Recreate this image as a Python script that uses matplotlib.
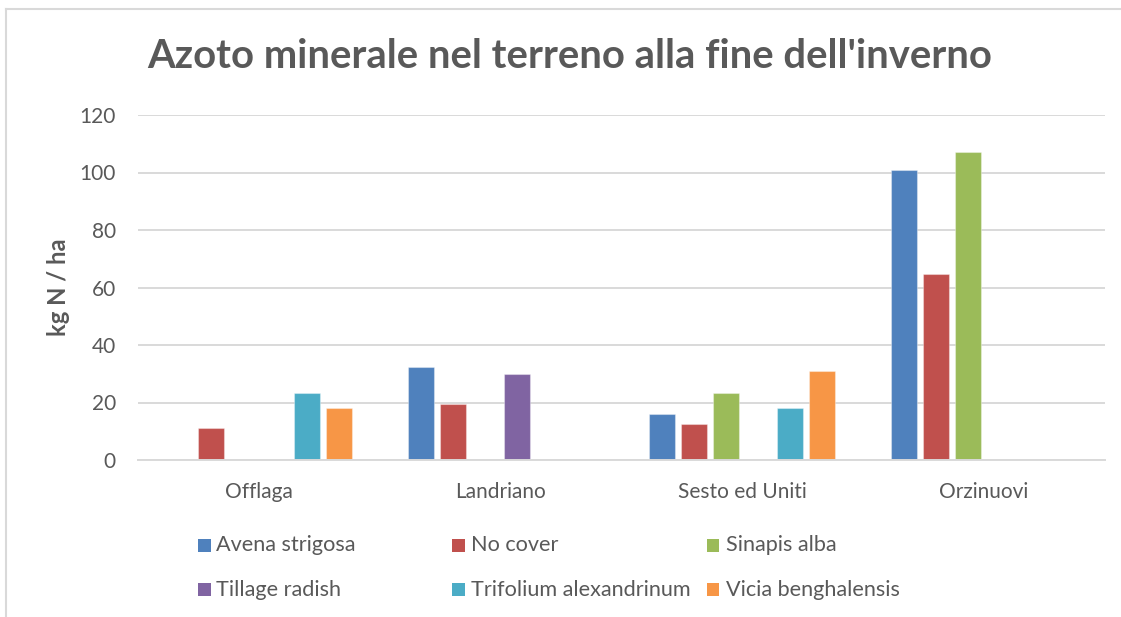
import matplotlib
matplotlib.use('Agg')
import matplotlib.pyplot as plt
import numpy as np
from matplotlib.patches import Rectangle
from matplotlib.lines import Line2D

nan = np.nan
categories = ['Offlaga', 'Landriano', 'Sesto ed Uniti', 'Orzinuovi']
series_names = ['Avena strigosa', 'No cover', 'Sinapis alba',
                'Tillage radish', 'Trifolium alexandrinum', 'Vicia benghalensis']
avena_strigosa = [nan, 32.5, 16.0, 100.8]
no_cover = [11.0, 19.5, 12.4, 64.8]
sinapis_alba = [nan, nan, 23.2, 107.0]
tillage_radish = [nan, 29.8, nan, nan]
trifolium_alexandrinum = [23.4, nan, 18.2, nan]
vicia_benghalensis = [18.2, nan, 31.1, nan]
y_ticks = [0, 20, 40, 60, 80, 100, 120]
title = "Azoto minerale nel terreno alla fine dell'inverno"
y_label = 'kg N / ha'

series_values = [avena_strigosa, no_cover, sinapis_alba,
                 tillage_radish, trifolium_alexandrinum, vicia_benghalensis]
colors = ['#4F81BD', '#C0504D', '#9BBB59', '#8064A2', '#4BACC6', '#F79646']

W, H = 1121, 617
FONT = ['Lato', 'DejaVu Sans']
TXT = '#595959'
GRID = '#D9D9D9'

fig = plt.figure(figsize=(W / 100, H / 100), dpi=100)
fig.patch.set_facecolor('white')
renderer = fig.canvas.get_renderer()


def fx(px):
    return px / W


def fy(py):
    return 1 - py / H


def fit(t, target, dim='w'):
    for _ in range(3):
        bb = t.get_window_extent(renderer)
        cur = bb.width if dim == 'w' else bb.height
        t.set_fontsize(t.get_fontsize() * target / cur)


# plot area
left, right, top, bottom = 138, 1105, 115, 460
ax = fig.add_axes([fx(left), fy(bottom), (right - left) / W, (bottom - top) / H])
x = np.arange(len(categories))
slot = 32 / 241.5
bw = 26 / 241.5
n = len(series_values)
for i, (vals, c) in enumerate(zip(series_values, colors)):
    ax.bar(x + (i - (n - 1) / 2) * slot, vals, width=bw, color=c,
           edgecolor=(1, 1, 1, 0.35), linewidth=0.8, zorder=3)

ax.set_xlim(-0.5, len(categories) - 0.5)
ax.set_ylim(y_ticks[0], y_ticks[-1])
ax.set_yticks(y_ticks)
ax.set_xticks(x)
ax.set_xticklabels(categories)
ax.yaxis.grid(True, color=GRID, linewidth=1.4, zorder=0)
ax.set_axisbelow(True)
for s in ['top', 'right', 'left']:
    ax.spines[s].set_visible(False)
ax.spines['bottom'].set_color(GRID)
ax.spines['bottom'].set_linewidth(1.4)
ax.spines['bottom'].set_zorder(4)
ax.tick_params(axis='both', length=0, colors=TXT)
ax.tick_params(axis='y', pad=22 * 0.72)
ax.tick_params(axis='x', pad=22 * 0.72)
for lab in ax.get_xticklabels() + ax.get_yticklabels():
    lab.set_family(FONT)
    lab.set_color(TXT)

# size tick labels
fig.canvas.draw()
probe = fig.text(0, 0, 'Offlaga', family=FONT, fontsize=14)
fit(probe, 68)
tick_fs = probe.get_fontsize()
probe.remove()
for lab in ax.get_xticklabels() + ax.get_yticklabels():
    lab.set_fontsize(tick_fs)

# title
t = fig.text(fx(570), fy(68), title, family=FONT, fontweight='bold',
             color=TXT, ha='center', va='baseline', fontsize=28)
fit(t, 844)

# y label
yl = fig.text(fx(58), fy(287.5), y_label, family=FONT, fontweight='bold',
              color=TXT, ha='center', va='center', rotation=90, fontsize=14)
fit(yl, 98, 'h')

# legend (row-major, 3 columns)
col_sq = [197.5, 452, 706.5]
row_y = [545, 589.5]
sq = 13
leg_fs = None
for k, (name, c) in enumerate(zip(series_names, colors)):
    r, cc = divmod(k, 3)
    sx = col_sq[cc]
    sy = row_y[r]
    fig.add_artist(Rectangle((fx(sx), fy(sy + sq / 2)), sq / W, sq / H,
                             transform=fig.transFigure, facecolor=c,
                             edgecolor='none'))
    lt = fig.text(fx(sx + sq + 6), fy(sy), name, family=FONT, color=TXT,
                  ha='left', va='center', fontsize=14)
    if leg_fs is None:
        fit(lt, 140)
        leg_fs = lt.get_fontsize()
    else:
        lt.set_fontsize(leg_fs)

# outer chart border (partially visible)
fig.add_artist(Line2D([fx(6), fx(6)], [0, fy(9)], color=GRID, lw=1.5,
                      transform=fig.transFigure))
fig.add_artist(Line2D([fx(6), 1], [fy(9), fy(9)], color=GRID, lw=1.5,
                      transform=fig.transFigure))

fig.savefig('out.png', dpi=100, facecolor='white')
